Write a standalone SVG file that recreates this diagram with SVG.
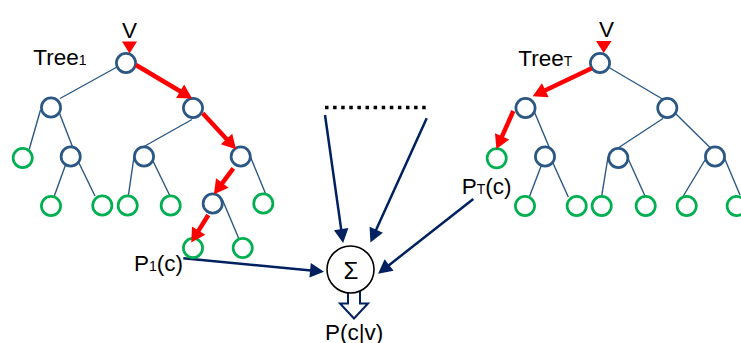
<svg xmlns="http://www.w3.org/2000/svg" width="741" height="343" viewBox="0 0 741 343">
  <defs>
    <style>
      .edge { stroke: #2A5783; stroke-width: 1.4; fill: none; }
      .inner { fill: #fff; stroke: #2A5783; stroke-width: 2.7; }
      .leaf { fill: #fff; stroke: #00B050; stroke-width: 2.7; }
      .path { stroke: #FF0000; stroke-width: 4.5; fill: none; }
      .flow { stroke: #002060; stroke-width: 2.5; fill: none; }
      .lbl { font-family: "Liberation Sans", Arial, sans-serif; font-size: 22.5px; fill: #000; }
      .sub { font-size: 14px; }
    </style>
    <marker id="headRed" markerUnits="userSpaceOnUse" markerWidth="16" markerHeight="18" viewBox="0 -9 16 18" refX="1" refY="0" orient="auto" overflow="visible">
      <path d="M0,-7.8 L14,0 L0,7.8 z" fill="#FF0000"/>
    </marker>
    <marker id="headNavy" markerUnits="userSpaceOnUse" markerWidth="16" markerHeight="18" viewBox="0 -9 16 18" refX="1" refY="0" orient="auto" overflow="visible">
      <path d="M0,-7.3 L14,0 L0,7.3 z" fill="#002060"/>
    </marker>
  </defs>

  <!-- tree edges -->
  <g id="connectors">
    <!-- Tree 1 -->
    <line class="edge" x1="117" y1="67" x2="60" y2="98.5"/>
    <line class="edge" x1="40.5" y1="110" x2="29.3" y2="149"/>
    <line class="edge" x1="59" y1="112" x2="73" y2="148"/>
    <line class="edge" x1="192" y1="119.5" x2="139.5" y2="149"/>
    <line class="edge" x1="65.5" y1="165" x2="54.3" y2="196"/>
    <line class="edge" x1="78" y1="161" x2="95" y2="196"/>
    <line class="edge" x1="134" y1="157" x2="128.3" y2="196"/>
    <line class="edge" x1="152" y1="159" x2="170" y2="196"/>
    <line class="edge" x1="250.5" y1="157" x2="265.7" y2="194"/>
    <line class="edge" x1="222.5" y1="200" x2="239" y2="239"/>
    <!-- Tree T -->
    <line class="edge" x1="609" y1="67.5" x2="663.3" y2="99.5"/>
    <line class="edge" x1="534" y1="111" x2="549.3" y2="147.5"/>
    <line class="edge" x1="663" y1="118.5" x2="615" y2="150"/>
    <line class="edge" x1="675" y1="113" x2="710" y2="147.5"/>
    <line class="edge" x1="541.5" y1="165" x2="529.3" y2="197"/>
    <line class="edge" x1="552.5" y1="162" x2="568.3" y2="197"/>
    <line class="edge" x1="608" y1="157" x2="601.7" y2="196"/>
    <line class="edge" x1="628" y1="158.5" x2="645" y2="196"/>
    <line class="edge" x1="705" y1="160" x2="683.3" y2="196"/>
    <line class="edge" x1="724" y1="157" x2="740" y2="195"/>

    <!-- inputs to the sum -->
    <line x1="325" y1="107.5" x2="428" y2="107.5" stroke="#000" stroke-width="3.5" stroke-dasharray="3.5 4.6"/>
    <line class="flow" x1="325" y1="115" x2="341.3" y2="230.1" marker-end="url(#headNavy)"/>
    <line class="flow" x1="426.7" y1="118.3" x2="375.8" y2="230.6" marker-end="url(#headNavy)"/>
    <line class="flow" x1="473.3" y1="199" x2="388.3" y2="265.7" marker-end="url(#headNavy)"/>
    <line class="flow" x1="183.3" y1="258.3" x2="311.1" y2="270.4" marker-end="url(#headNavy)"/>

    <!-- output arrow -->
    <polygon points="348,291 360,291 360,303.5 368,303.5 354,318.5 340,303.5 348,303.5" fill="#fff" stroke="#002060" stroke-width="2" stroke-linejoin="miter"/>
  </g>

  <!-- Tree 1 nodes -->
  <g id="tree1">
    <circle class="inner" cx="126" cy="63" r="9.6"/>
    <circle class="inner" cx="51" cy="107.5" r="9.6"/>
    <circle class="inner" cx="193" cy="108" r="9.6"/>
    <circle class="inner" cx="70.7" cy="156.5" r="9.6"/>
    <circle class="inner" cx="144" cy="156.5" r="9.6"/>
    <circle class="inner" cx="240.7" cy="156.5" r="9.6"/>
    <circle class="inner" cx="212.7" cy="203.5" r="9.6"/>
    <circle class="leaf" cx="22.7" cy="158" r="9.6"/>
    <circle class="leaf" cx="51" cy="206" r="9.6"/>
    <circle class="leaf" cx="102.3" cy="205.5" r="9.6"/>
    <circle class="leaf" cx="127.7" cy="205.5" r="9.6"/>
    <circle class="leaf" cx="170.7" cy="205.5" r="9.6"/>
    <circle class="leaf" cx="263.3" cy="203.5" r="9.6"/>
    <circle class="leaf" cx="193" cy="248" r="9.6"/>
    <circle class="leaf" cx="242.7" cy="248" r="9.6"/>
  </g>

  <!-- Tree T nodes -->
  <g id="treeT">
    <circle class="inner" cx="600" cy="63" r="9.6"/>
    <circle class="inner" cx="525.5" cy="108" r="9.6"/>
    <circle class="inner" cx="667.3" cy="108" r="9.6"/>
    <circle class="inner" cx="545" cy="156.5" r="9.6"/>
    <circle class="inner" cx="618.3" cy="158" r="9.6"/>
    <circle class="inner" cx="715" cy="156.5" r="9.6"/>
    <circle class="leaf" cx="496.7" cy="158.3" r="9.6"/>
    <circle class="leaf" cx="525" cy="206" r="9.6"/>
    <circle class="leaf" cx="576.7" cy="206" r="9.6"/>
    <circle class="leaf" cx="601.7" cy="206" r="9.6"/>
    <circle class="leaf" cx="645.7" cy="206" r="9.6"/>
    <circle class="leaf" cx="686.7" cy="206" r="9.6"/>
    <circle class="leaf" cx="736.7" cy="206" r="9.6"/>
  </g>

  <!-- decision paths taken by v -->
  <g id="paths">
    <polygon points="122,41.5 137,41.5 129.5,53.5" fill="#FF0000"/>
    <line class="path" x1="136" y1="65" x2="181" y2="91.8" marker-end="url(#headRed)"/>
    <line class="path" x1="202.7" y1="113.3" x2="227.2" y2="139.7" marker-end="url(#headRed)"/>
    <line class="path" x1="233.3" y1="168.3" x2="221.7" y2="183.8" marker-end="url(#headRed)"/>
    <line class="path" x1="208.3" y1="215" x2="198.1" y2="231.4" marker-end="url(#headRed)"/>

    <polygon points="596,41 611.5,41 603.7,53" fill="#FF0000"/>
    <line class="path" x1="591.7" y1="68.3" x2="544.4" y2="90.7" marker-end="url(#headRed)"/>
    <line class="path" x1="513.3" y1="111" x2="501.7" y2="137.2" marker-end="url(#headRed)"/>
  </g>

  <!-- summation node -->
  <g id="sum">
    <circle cx="350.5" cy="269.5" r="23.5" fill="#fff" stroke="#000" stroke-width="1.6"/>
    <text class="lbl" x="351" y="278.5" text-anchor="middle" style="font-size:24px">Σ</text>
  </g>

  <!-- labels -->
  <g id="labels">
    <text class="lbl" x="129.5" y="37.5" text-anchor="middle">V</text>
    <text class="lbl" x="606.5" y="37" text-anchor="middle">V</text>
    <text class="lbl" x="33.3" y="65">Tree<tspan class="sub">1</tspan></text>
    <text class="lbl" x="518.3" y="66">Tree<tspan class="sub">T</tspan></text>
    <text class="lbl" x="134" y="271">P<tspan class="sub">1</tspan>(c)</text>
    <text class="lbl" x="461.7" y="194.3">P<tspan class="sub">T</tspan>(c)</text>
    <text class="lbl" x="325" y="339.5">P(c|v)</text>
  </g>
</svg>
